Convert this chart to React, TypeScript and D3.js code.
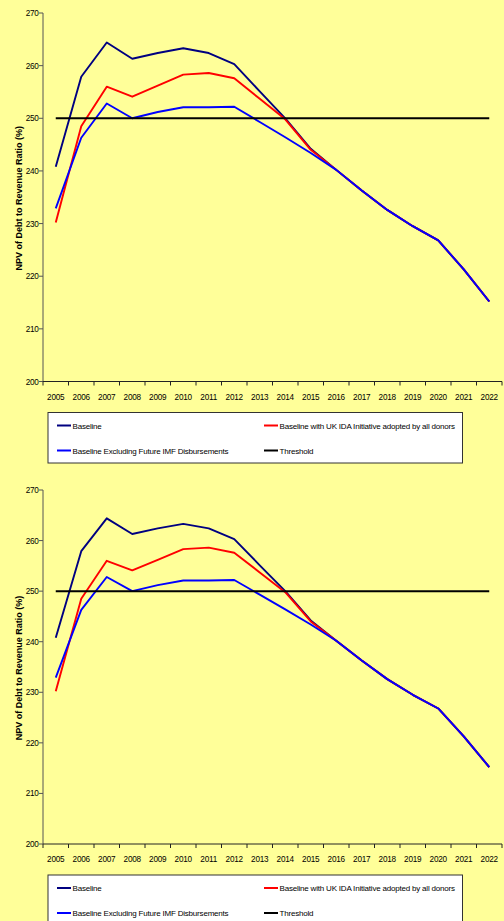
import React from "react";
import * as d3 from "d3";

const years = ["2005","2006","2007","2008","2009","2010","2011","2012","2013","2014","2015","2016","2017","2018","2019","2020","2021","2022"];
const baseline = [240.8, 257.9, 264.4, 261.3, 262.4, 263.3, 262.4, 260.3, 255.1, 250.0, 244.2, 240.2, 236.3, 232.6, 229.5, 226.8, 221.3, 215.2];
const ukIda = [230.2, 248.5, 256.0, 254.1, 256.2, 258.3, 258.6, 257.6, 253.7, 249.8, 244.0, 240.2, 236.3, 232.6, 229.5, 226.8, 221.3, 215.2];
const exclIMF = [232.9, 246.3, 252.8, 250.0, 251.2, 252.1, 252.1, 252.2, 249.3, 246.4, 243.4, 240.2, 236.3, 232.6, 229.5, 226.8, 221.3, 215.2];
const threshold = [250, 250, 250, 250, 250, 250, 250, 250, 250, 250, 250, 250, 250, 250, 250, 250, 250, 250];
const yTicks = [200, 210, 220, 230, 240, 250, 260, 270];

const seriesNames = ["Baseline", "Baseline with UK IDA Initiative adopted by all donors", "Baseline Excluding Future IMF Disbursements", "Threshold"];
const seriesColors = ["#000080", "#ff0000", "#0000ff", "#000000"];
const seriesData = [baseline, ukIda, exclIMF, threshold];

const FONT = "'Liberation Sans', Arial, sans-serif";

function Chart({ top, plotTop, plotBottom }: { top: number; plotTop: number; plotBottom: number }) {
  const x0 = 43, x1 = 502;
  const x = d3.scaleBand<string>().domain(years).range([x0, x1]).padding(0);
  const y = d3.scaleLinear().domain([200, 270]).range([plotBottom, plotTop]);
  const cx = (d: string) => (x(d) as number) + x.bandwidth() / 2;
  const line = d3.line<number>().x((_, i) => cx(years[i])).y((v) => y(v));
  const legTop = plotBottom + 31;
  const legH = 50.5;
  const legRows = [legTop + 13, legTop + 38];
  const legCols = [57, 264];
  const order = [0, 1, 2, 3];
  return (
    <g transform={`translate(0,${top})`}>
      {/* y axis title */}
      <text
        transform={`translate(22,${(plotTop + plotBottom) / 2 + 1}) rotate(-90)`}
        textAnchor="middle"
        fontFamily={FONT}
        fontWeight="bold"
        fontSize={9}
        fill="#000"
      >
        NPV of Debt to Revenue Ratio (%)
      </text>
      {/* y axis */}
      <line x1={x0} x2={x0} y1={plotTop} y2={plotBottom} stroke="#555" strokeWidth={1} />
      {yTicks.map((t) => (
        <g key={t}>
          <line x1={x0 - 4} x2={x0} y1={y(t)} y2={y(t)} stroke="#555" />
          <text x={x0 - 4.5} y={y(t) + 3} textAnchor="end" fontFamily={FONT} fontSize={8.2} letterSpacing={-0.3} fill="#000">
            {t}
          </text>
        </g>
      ))}
      {/* x axis */}
      <line x1={x0} x2={x1} y1={plotBottom} y2={plotBottom} stroke="#222" strokeWidth={1} />
      {years.map((yr) => (
        <line key={"t" + yr} x1={(x(yr) as number) + x.bandwidth()} x2={(x(yr) as number) + x.bandwidth()} y1={plotBottom} y2={plotBottom + 4} stroke="#222" />
      ))}
      <line x1={x0} x2={x0} y1={plotBottom} y2={plotBottom + 4} stroke="#222" />
      {years.map((yr) => (
        <text key={yr} x={cx(yr)} y={plotBottom + 18} textAnchor="middle" fontFamily={FONT} fontSize={8.2} letterSpacing={-0.2} fill="#000">
          {yr}
        </text>
      ))}
      {/* series */}
      {order.map((i) => (
        <path key={i} d={line(seriesData[i]) as string} fill="none" stroke={seriesColors[i]} strokeWidth={i === 3 ? 2 : 1.9} strokeLinejoin="round" />
      ))}
      {/* legend */}
      <rect x={48} y={legTop} width={414.5} height={legH} fill="#ffffff" stroke="#333" strokeWidth={1} />
      {seriesNames.map((n, i) => {
        const cxL = legCols[i % 2];
        const cyL = legRows[Math.floor(i / 2)];
        return (
          <g key={n}>
            <line x1={cxL} x2={cxL + 14} y1={cyL} y2={cyL} stroke={seriesColors[i]} strokeWidth={2} />
            <text x={cxL + 15.5} y={cyL + 3} fontFamily={FONT} fontSize={8} letterSpacing={-0.2} fill="#000">
              {n}
            </text>
          </g>
        );
      })}
    </g>
  );
}

export default function App() {
  return (
    <svg width={504} height={921} style={{ position: "absolute", left: 0, top: 0, display: "block" }}>
      <rect x={0} y={0} width={504} height={921} fill="#ffff99" />
      <Chart top={0} plotTop={13} plotBottom={381.5} />
      <Chart top={0} plotTop={490} plotBottom={844} />
    </svg>
  );
}
